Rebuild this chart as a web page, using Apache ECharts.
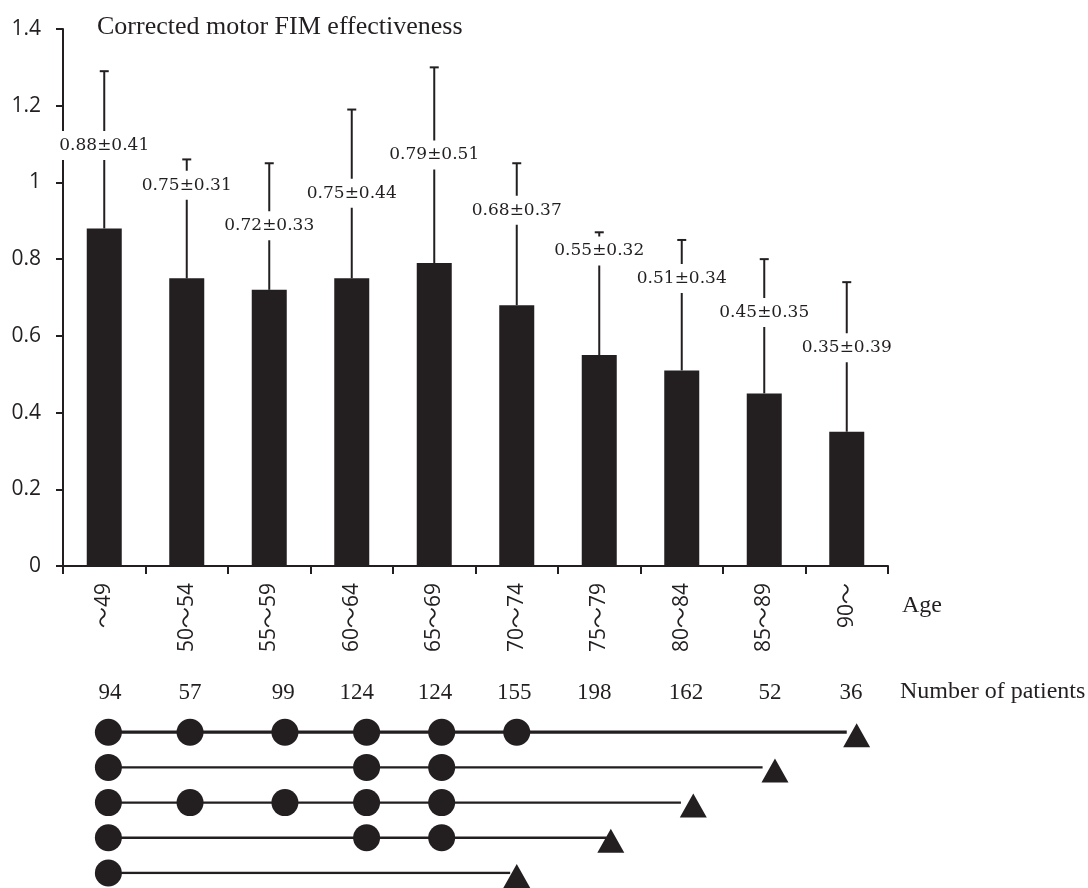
<!DOCTYPE html>
<html>
<head>
<meta charset="utf-8">
<script src="https://cdn.jsdelivr.net/npm/echarts@6/dist/echarts.min.js"></script>
<style>html,body{margin:0;padding:0;background:#fff;}#c{width:1088px;height:888px;}</style>
</head>
<body>
<div id="c"></div>
<script>
// ---- data ----
const ages = ['〜49', '50〜54', '55〜59', '60〜64', '65〜69', '70〜74', '75〜79', '80〜84', '85〜89', '90〜'];
const meanFIM = [0.88, 0.75, 0.72, 0.75, 0.79, 0.68, 0.55, 0.51, 0.45, 0.35];
const sdFIM = [0.41, 0.31, 0.33, 0.44, 0.51, 0.37, 0.32, 0.34, 0.35, 0.39];
const patients = [94, 57, 99, 124, 124, 155, 198, 162, 52, 36];
const yMin = 0, yMax = 1.4, yStep = 0.2;

// comparison rows (positions in category units on the shared age scale)
const patientPos = [0.07, 1.04, 2.17, 3.06, 4.01, 4.97, 5.94, 7.05, 8.07, 9.05];
const rowDots = [
  [0.05, 1.04, 2.19, 3.18, 4.09, 5.0],
  [0.05, 3.18, 4.09],
  [0.05, 1.04, 2.19, 3.18, 4.09],
  [0.05, 3.18, 4.09],
  [0.05]
];
const rowLineEnd = [9.0, 7.98, 6.99, 6.09, 4.92];
const rowTriangle = [9.12, 8.13, 7.14, 6.14, 5.0];

// ---- layout / style ----
const labelLiftPx = [83, 93, 64, 85, 108, 95, 104, 92, 81, 84];
const INK = '#231f20';
const rowWidths = [3.2, 2.4, 2.4, 2.4, 2.4];

const chart = echarts.init(document.getElementById('c'), null, {renderer: 'canvas'});

const fmt = v => v.toFixed(2);

const series = [
  {
    type: 'bar',
    xAxisIndex: 0, yAxisIndex: 0,
    data: meanFIM,
    barWidth: 35,
    itemStyle: {color: INK},
    z: 2
  },
  {
    type: 'custom',
    xAxisIndex: 0, yAxisIndex: 0,
    z: 5,
    data: meanFIM.map((m, i) => [i, m, m + sdFIM[i], sdFIM[i]]),
    renderItem: function (params, api) {
      const i = params.dataIndex;
      const base = api.coord([api.value(0), api.value(1)]);
      const top = api.coord([api.value(0), api.value(2)]);
      const x = base[0];
      const txt = fmt(api.value(1)) + '±' + fmt(api.value(3));
      return {
        type: 'group',
        children: [
          {type: 'line', shape: {x1: x, y1: base[1], x2: x, y2: top[1]}, style: {stroke: INK, lineWidth: 2}},
          {type: 'line', shape: {x1: x - 4.5, y1: top[1], x2: x + 4.5, y2: top[1]}, style: {stroke: INK, lineWidth: 2}},
          {type: 'text', z2: 10, style: {
            text: txt, x: x, y: base[1] - labelLiftPx[i],
            align: 'center', verticalAlign: 'middle',
            font: '17px "DejaVu Serif"', fill: INK,
            backgroundColor: '#fff', padding: [6, 1]
          }}
        ]
      };
    }
  },
  {
    type: 'scatter',
    xAxisIndex: 1, yAxisIndex: 1,
    data: patientPos.map((x, i) => [x, 0, patients[i]]),
    symbolSize: 1,
    itemStyle: {color: 'rgba(0,0,0,0)', opacity: 1},
    label: {
      show: true, position: 'inside', offset: [0, -4],
      formatter: p => String(p.value[2]),
      fontFamily: 'Liberation Serif', fontSize: 23, color: INK
    }
  }
];

rowDots.forEach((dots, r) => {
  const data = dots.map(x => [x, r + 1]);
  data.push({value: [rowLineEnd[r], r + 1], symbol: 'none'});
  series.push({
    type: 'line',
    xAxisIndex: 1, yAxisIndex: 1,
    data: data,
    symbol: 'circle',
    symbolSize: 27,
    showAllSymbol: true,
    itemStyle: {color: INK, borderWidth: 0, opacity: 1},
    lineStyle: {color: INK, width: rowWidths[r]},
    z: 3
  });
});

series.push({
  type: 'scatter',
  xAxisIndex: 1, yAxisIndex: 1,
  data: rowTriangle.map((x, r) => [x, r + 1]),
  symbol: 'triangle',
  symbolSize: [27, 24],
  symbolOffset: [0, 3],
  itemStyle: {color: INK, opacity: 1},
  z: 4
});

const option = {
  animation: false,
  backgroundColor: '#fff',
  grid: [
    {left: 63, right: 200, top: 29, bottom: 322, containLabel: false},
    {left: 63, right: 200, top: 697, height: 176, containLabel: false}
  ],
  xAxis: [
    {
      type: 'category', gridIndex: 0, data: ages, boundaryGap: true,
      axisLine: {lineStyle: {color: INK, width: 2}},
      axisTick: {show: true, length: 8, lineStyle: {color: INK, width: 2}},
      axisLabel: {rotate: 90, margin: 17, fontFamily: '"Open Sans", "Noto Sans CJK JP"', fontSize: 21, color: INK, interval: 0}
    },
    {type: 'value', gridIndex: 1, min: -0.5, max: 9.5, show: false}
  ],
  yAxis: [
    {
      type: 'value', gridIndex: 0, min: yMin, max: yMax, interval: yStep,
      splitLine: {show: false},
      axisLine: {show: true, lineStyle: {color: INK, width: 2}},
      axisTick: {show: true, length: 7, lineStyle: {color: INK, width: 2}},
      axisLabel: {margin: 22, fontFamily: 'Open Sans', fontSize: 21, color: INK}
    },
    {type: 'value', gridIndex: 1, min: 0, max: 5, inverse: true, show: false}
  ],
  graphic: [
    {type: 'text', left: 97, top: 14, style: {text: 'Corrected motor FIM effectiveness', font: '26px "Liberation Serif"', fill: INK}},
    {type: 'text', left: 902, top: 594, style: {text: 'Age', font: '24px "Liberation Serif"', fill: INK}},
    {type: 'text', left: 900, top: 680, style: {text: 'Number of patients', font: '24px "Liberation Serif"', fill: INK}}
  ],
  series: series
};

chart.setOption(option);
</script>
</body>
</html>
